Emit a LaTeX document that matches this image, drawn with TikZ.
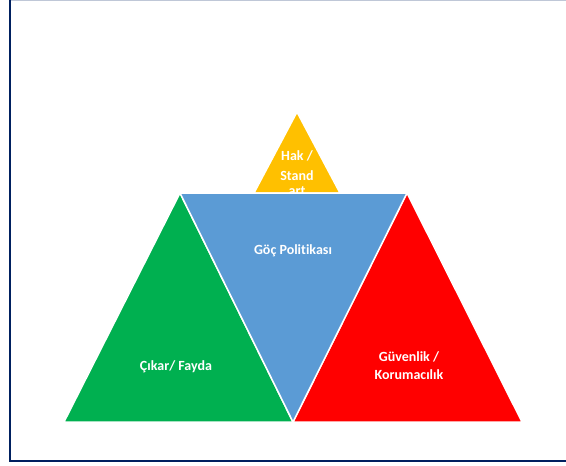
\documentclass[tikz,border=0pt]{standalone}
\usepackage{fontspec}
\setmainfont{Carlito}[Ligatures=NoCommon]
\definecolor{navy}{RGB}{0,32,96}
\definecolor{gold}{RGB}{255,192,0}
\definecolor{skyblue}{RGB}{91,155,213}
\definecolor{leaf}{RGB}{0,176,80}
\begin{document}
\begin{tikzpicture}[x=1pt,y=-1pt,
    tri/.style={draw=white,line width=1.5pt,line join=miter},
    lbl/.style={text=white,font=\bfseries\fontsize{14}{18}\selectfont,align=center}]
        \useasboundingbox (0,0) rectangle (566,466);
        % frame
        \draw[navy!25, line width=1pt] (10,0.5) -- (566,0.5);
        \draw[navy, line width=2pt] (10,0) -- (10,461) -- (566,461);
        % top triangle, partly hidden by the middle one
        \filldraw[tri, fill=gold] (297,112) -- (340,193) -- (254,193) -- cycle;
        \node[lbl, font=\bfseries\fontsize{14}{20.3}\selectfont] (hak) at (297,173) {Hak /\\Stand\\[-5.6pt]art};
        \filldraw[tri, fill=leaf] (64,422) -- (293,422) -- (180,193) -- cycle;
        \filldraw[tri, fill=red] (293,422) -- (522,422) -- (407,193) -- cycle;
        \filldraw[tri, fill=skyblue] (180,193) -- (407,193) -- (293,422) -- cycle;
        \node[lbl] (goc) at (293,251) {Göç Politikası};
        \node[lbl] (cikar) at (176,367) {Çıkar/ Fayda};
        \node[lbl] (guvenlik) at (409,366) {Güvenlik /\\Korumacılık};
    \end{tikzpicture}
\end{document}
